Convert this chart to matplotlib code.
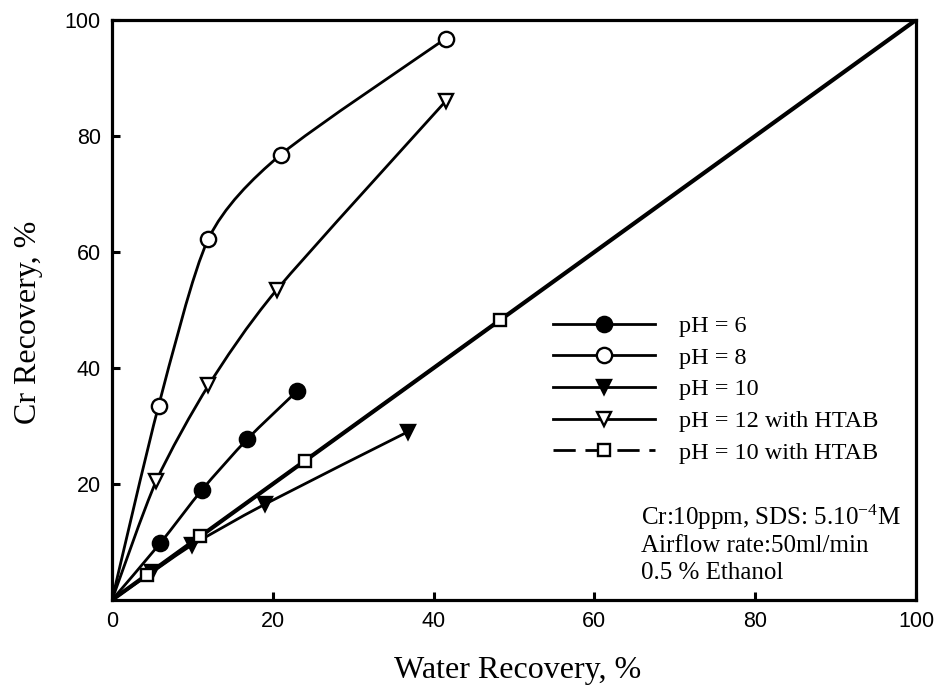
import numpy as np
import matplotlib
matplotlib.use("Agg")
import matplotlib.pyplot as plt
from matplotlib.path import Path
from matplotlib.patches import PathPatch
from matplotlib.lines import Line2D

plt.rcParams['mathtext.default'] = 'regular'

# data
ph6_x = [0, 6.0, 11.2, 16.8, 23.0]
ph6_y = [0, 9.8, 19.0, 27.7, 36.0]

ph8_x = [0, 5.8, 12.0, 21.0, 41.5]
ph8_y = [0, 33.5, 62.3, 76.8, 96.8]

ph10_x = [0, 5.0, 10.0, 19.0, 36.8]
ph10_y = [0, 4.8, 9.5, 16.5, 29.0]

ph12_htab_x = [0, 5.5, 12.0, 20.5, 41.5]
ph12_htab_y = [0, 20.5, 37.0, 53.5, 86.0]

ph10_htab_x = [0, 4.3, 11.0, 24.0, 48.2]
ph10_htab_y = [0, 4.3, 11.0, 24.0, 48.2]

diag_x = [0, 100]
diag_y = [0, 100]

labels = ['pH = 6', 'pH = 8', 'pH = 10', 'pH = 12 with HTAB', 'pH = 10 with HTAB']
x_ticks = [0, 20, 40, 60, 80, 100]
y_ticks = [20, 40, 60, 80, 100]

SERIF = 'Liberation Serif'
SANS = 'Liberation Sans'


def smooth_path(xs, ys, k=0.75):
    # cardinal spline through the points, drawn as cubic bezier segments
    p = np.column_stack([xs, ys]).astype(float)
    ext = np.vstack([p[0], p, p[-1]])
    verts = [tuple(p[0])]
    codes = [Path.MOVETO]
    for i in range(1, len(ext) - 2):
        c1 = ext[i] + k * (ext[i + 1] - ext[i - 1]) / 6.0
        c2 = ext[i + 1] - k * (ext[i + 2] - ext[i]) / 6.0
        verts += [tuple(c1), tuple(c2), tuple(ext[i + 1])]
        codes += [Path.CURVE4] * 3
    return Path(verts, codes)


fig = plt.figure(figsize=(9.36, 6.89), dpi=100)
ax = fig.add_axes([112 / 936, 1 - 600 / 689, 804 / 936, 580 / 689])

series = [
    (ph6_x, ph6_y, 'o', 'black', '-', 11),
    (ph8_x, ph8_y, 'o', 'white', '-', 11),
    (ph10_x, ph10_y, 'v', 'black', '-', 10),
    (ph12_htab_x, ph12_htab_y, 'v', 'white', '-', 10),
    (ph10_htab_x, ph10_htab_y, 's', 'white', (0, (8, 3.5)), 9),
]

handles = []
for (xs, ys, mk, fc, ls, ms), lab in zip(series, labels):
    patch = PathPatch(smooth_path(xs, ys), facecolor='none', edgecolor='black',
                      lw=2, linestyle=ls, zorder=2)
    ax.add_patch(patch)
    ax.plot(xs[1:], ys[1:], ls='none', marker=mk, ms=ms, mfc=fc, mec='black',
            mew=1.7, zorder=4)
    handles.append(Line2D([], [], color='black', lw=2, ls=ls, marker=mk, ms=ms,
                          mfc=fc, mec='black', mew=1.7, label=lab))

ax.plot(diag_x, diag_y, color='black', lw=3, zorder=3)

ax.set_xlim(0, 100)
ax.set_ylim(0, 100)
ax.set_xticks(x_ticks)
ax.set_yticks(y_ticks)
ax.tick_params(direction='in', length=6, width=2.2, pad=8, labelsize=15.5)
for lbl in ax.get_xticklabels() + ax.get_yticklabels():
    lbl.set_fontfamily(SANS)
for sp in ax.spines.values():
    sp.set_linewidth(2.3)

ax.set_xlabel('Water Recovery, %', fontsize=23, family=SERIF)
ax.set_ylabel('Cr Recovery, %', fontsize=23, family=SERIF)
ax.xaxis.set_label_coords(0.504, -0.097)
ax.yaxis.set_label_coords(-0.086, 0.478)

leg = ax.legend(handles=handles, loc='upper left',
                bbox_to_anchor=(553 / 936, 1 - 315 / 689),
                bbox_transform=fig.transFigure, frameon=False,
                prop={'family': SERIF, 'size': 17.5}, numpoints=1,
                handlelength=4.2, handletextpad=1.0, labelspacing=0.40,
                borderpad=0, borderaxespad=0)

notes = ['Cr:10ppm, SDS: 5.10$^{-4}$M', 'Airflow rate:50ml/min', '0.5 % Ethanol']
x0 = (641 - 112) / 804
for i, base in enumerate([525, 552, 579]):
    ax.text(x0, (600 - base) / 580, notes[i], transform=ax.transAxes, family=SERIF,
            fontsize=18, va='baseline', ha='left')

fig.savefig('out.png', dpi=100)
